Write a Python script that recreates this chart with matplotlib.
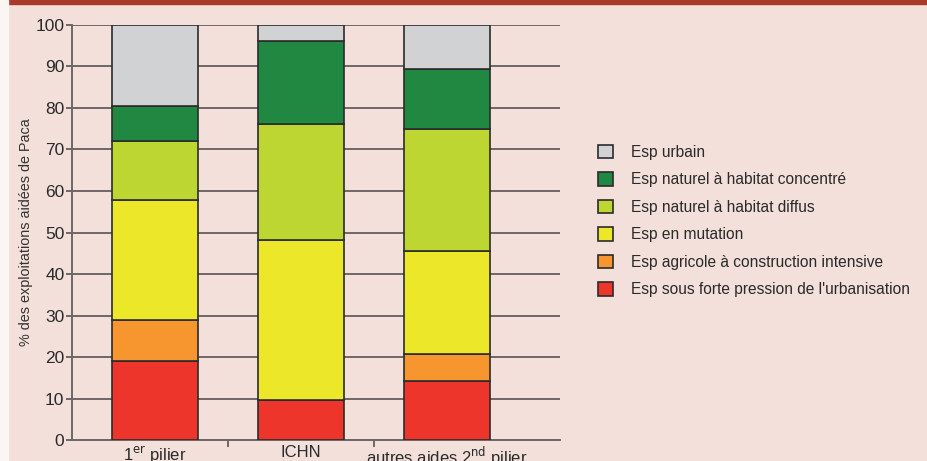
import numpy as np
import matplotlib
matplotlib.use('Agg')
from matplotlib import pyplot as plt
from matplotlib.patches import Rectangle

plt.rcParams['font.family'] = ['Liberation Sans', 'DejaVu Sans']

# data (% of farms)
categories = ['1$^{\\mathrm{er}}$ pilier', 'ICHN', 'autres aides 2$^{\\mathrm{nd}}$ pilier']
series_names = ["Esp sous forte pression de l'urbanisation",
                'Esp agricole à construction intensive',
                'Esp en mutation',
                'Esp naturel à habitat diffus',
                'Esp naturel à habitat concentré',
                'Esp urbain']
pression = [19.2, 9.7, 14.2]
agricole = [9.8, 0.0, 6.7]
mutation = [28.8, 38.5, 24.7]
diffus = [14.3, 27.9, 29.2]
concentre = [8.4, 20.0, 14.5]
urbain = [19.5, 3.9, 10.7]
colors = ['#EE352C', '#F7962E', '#EDE72A', '#BDD631', '#218841', '#D1D2D4']

bg = '#F3E0DA'
fig = plt.figure(figsize=(9.27, 4.61), dpi=100, facecolor=bg)
# red band on top, white margin on the left
fig.patches.append(Rectangle((0, 0.991), 1, 0.009, transform=fig.transFigure,
                             color='#A83A2A', zorder=5))
fig.patches.append(Rectangle((0, 0), 0.0086, 1, transform=fig.transFigure,
                             color='#FBF6F4', zorder=6))

ax = fig.add_axes([0.0777, 0.0445, 0.5264, 0.902])
ax.set_facecolor(bg)

x = np.arange(len(categories))
bottom = np.zeros(len(categories))
for vals, name, c in zip([pression, agricole, mutation, diffus, concentre, urbain],
                         series_names, colors):
    ax.bar(x, vals, 0.59, bottom=bottom, color=c, edgecolor='#2b2b2b',
           linewidth=1.2, zorder=3, label=name)
    bottom += np.array(vals)

ax.set_ylim(0, 100)
ax.set_xlim(-0.568, 2.774)
ax.set_yticks(np.arange(0, 101, 10))
ax.yaxis.grid(True, color='#6f6767', linewidth=1.4, zorder=0)
ax.set_axisbelow(True)
for s in ['top', 'right']:
    ax.spines[s].set_visible(False)
for s in ['left', 'bottom']:
    ax.spines[s].set_color('#6f6767')
    ax.spines[s].set_linewidth(1.4)
ax.set_xticks(x)
ax.set_xticklabels(categories, fontsize=12, color='#2a2a2a')
ax.set_xticks([0.5, 1.5], minor=True)
ax.tick_params(axis='x', which='major', length=0, pad=3)
ax.tick_params(axis='x', which='minor', length=5, color='#6f6767', width=1.4)
ax.tick_params(axis='y', length=4.5, color='#6f6767', width=1.4, labelsize=12.5,
               pad=1, labelcolor='#2a2a2a')
ax.set_ylabel('% des exploitations aidées de Paca', fontsize=10.4, color='#333333', labelpad=2)

handles, labels = ax.get_legend_handles_labels()
fig.legend(handles[::-1], labels[::-1], loc='upper left', bbox_to_anchor=(0.63, 0.716),
           frameon=False, fontsize=11.2, handlelength=0.95, handleheight=0.95,
           handletextpad=1.15, labelspacing=0.8, labelcolor='#2a2a2a')

fig.savefig('out.png', dpi=100, facecolor=bg)
